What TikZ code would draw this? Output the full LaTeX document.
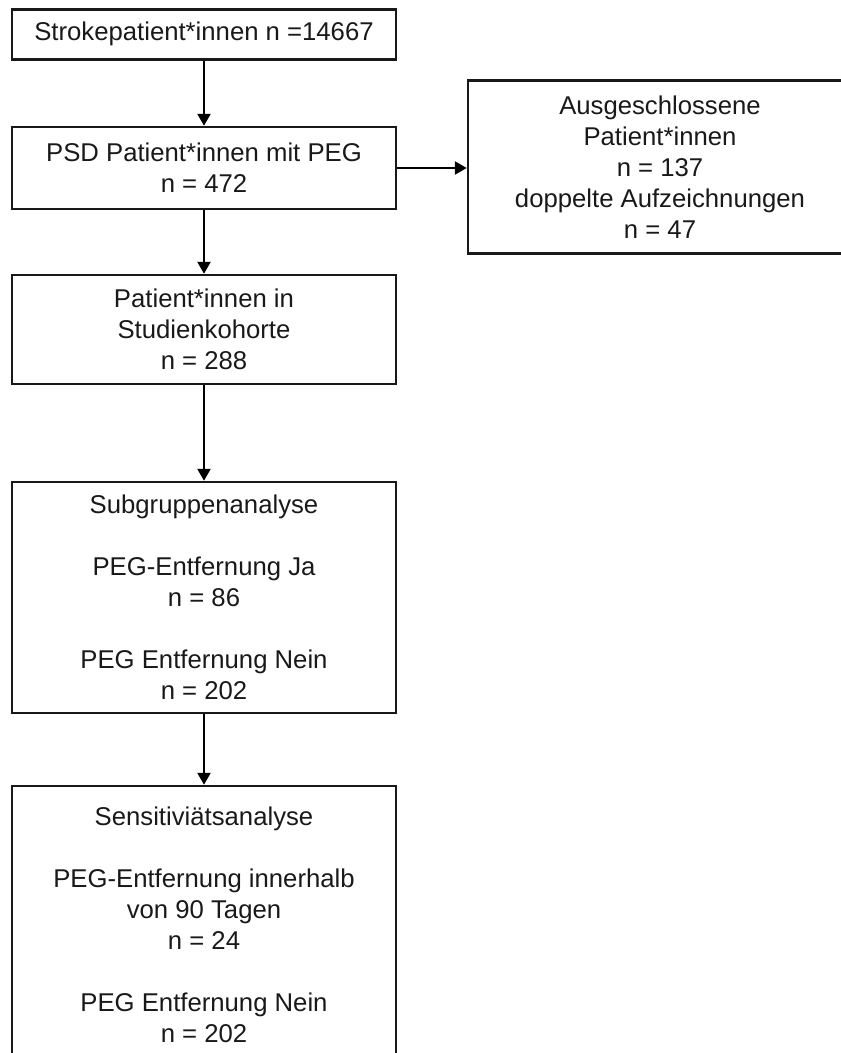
\documentclass[tikz,border=0pt]{standalone}
\usepackage{fontspec}
\setmainfont{Liberation Sans}
\usetikzlibrary{arrows.meta}
\tikzset{
  flowbox/.style={draw=black!90, line width=2.5pt, rectangle, inner sep=0pt, align=center,
    text=black!90, font=\fontsize{25.7}{31}\selectfont},
  flowarrow/.style={draw=black, line width=2.5pt, -{Triangle[length=12pt,width=13pt]}}
}
\begin{document}
\begin{tikzpicture}[x=1pt,y=-1pt]
\clip (0,0) rectangle (841,1053);
\node[flowbox, minimum width=384.3pt, minimum height=50pt] (b1) at (204,34.3)
  {Strokepatient*innen n =14667};
\node[flowbox, minimum width=384.3pt, minimum height=82pt] (b2) at (204,168)
  {PSD Patient*innen mit PEG\\n = 472};
\node[flowbox, minimum width=384pt, minimum height=173pt] (b3) at (660,167)
  {Ausgeschlossene\\Patient*innen\\n = 137\\doppelte Aufzeichnungen\\n = 47};
\node[flowbox, minimum width=384.3pt, minimum height=109pt] (b4) at (204,329.5)
  {Patient*innen in\\Studienkohorte\\n = 288};
\node[flowbox, minimum width=384.3pt, minimum height=231pt] (b5) at (204,597.5)
  {Subgruppenanalyse\\[31pt]PEG-Entfernung Ja\\n = 86\\[31pt]PEG Entfernung Nein\\n = 202};
\node[flowbox, minimum width=384.3pt, minimum height=278pt] (b6) at (204,925)
  {Sensitiviätsanalyse\\[31pt]PEG-Entfernung innerhalb\\von 90 Tagen\\n = 24\\[31pt]PEG Entfernung Nein\\n = 202};
\draw[flowarrow] (b1.south) -- (b2.north);
\draw[flowarrow] (b2.south) -- (b4.north);
\draw[flowarrow] (b4.south) -- (b5.north);
\draw[flowarrow] (b5.south) -- (b6.north);
\draw[flowarrow] (b2.east) -- (b2.east -| b3.west);
\end{tikzpicture}
\end{document}
